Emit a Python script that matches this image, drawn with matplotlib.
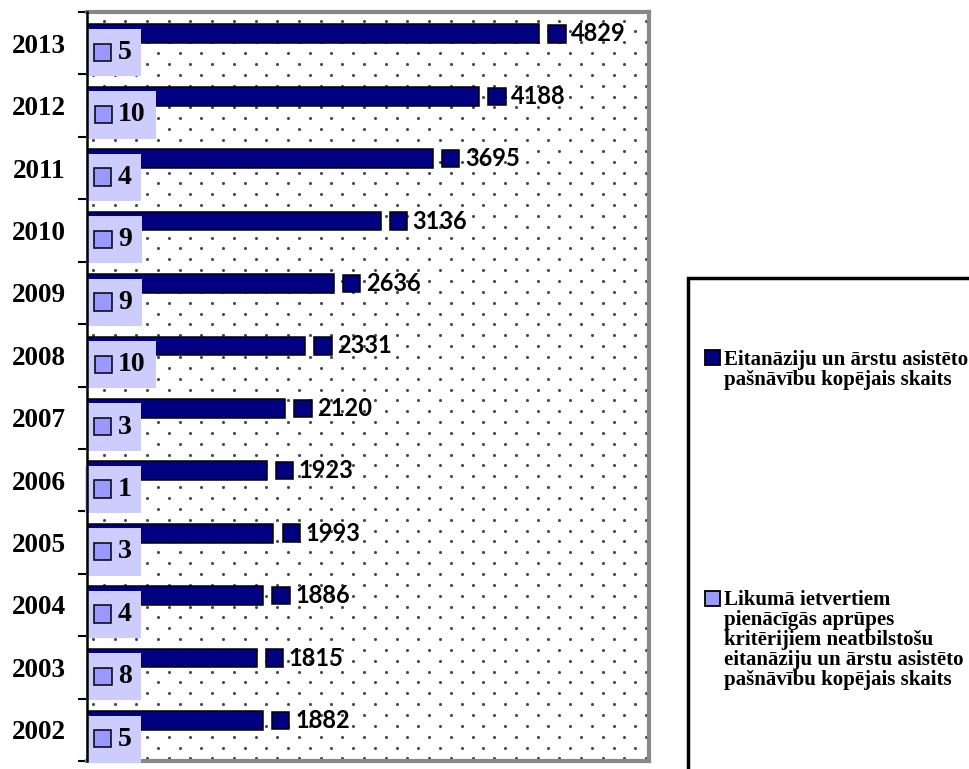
import numpy as np
import matplotlib
matplotlib.use('Agg')
import matplotlib.pyplot as plt
from matplotlib.patches import Rectangle
from matplotlib.offsetbox import AnnotationBbox, DrawingArea, TextArea, HPacker

years = [2002, 2003, 2004, 2005, 2006, 2007, 2008, 2009, 2010, 2011, 2012, 2013]
kopejais = [1882, 1815, 1886, 1993, 1923, 2120, 2331, 2636, 3136, 3695, 4188, 4829]
neatbilstosi = [5, 8, 4, 3, 1, 3, 10, 9, 9, 4, 10, 5]
nosaukumi = ["Eitanāziju un ārstu asistēto\npašnāvību kopējais skaits",
             "Likumā ietvertiem\npienācīgās aprūpes\nkritērijiem neatbilstošu\n"
             "eitanāziju un ārstu asistēto\npašnāvību kopējais skaits"]

TUMSA = '#000080'; GAISA = '#9999FF'; FONS_ETIK = '#CCCCFF'
W, H = 969, 769
SERIF = 'Liberation Serif'; SANS = 'Lato'

def fig_xy(x, y):
    return x / W, 1 - y / H

fig = plt.figure(figsize=(W / 100, H / 100), dpi=100)
ax_l, ax_t, ax_r, ax_b = 86.7, 12, 649, 761
ax = fig.add_axes([ax_l / W, 1 - ax_b / H, (ax_r - ax_l) / W, (ax_b - ax_t) / H])

# punktotais fons
aw, ah = ax_r - ax_l, ax_b - ax_t
dx, dy = 21.7, 10.85
px, py = [], []
for k, yy in enumerate(np.arange(8.6 - 4 * dy, ah + dy, dy)):
    ph = 16.95 if k % 2 == 0 else 6.1
    for xx in np.arange(ph - dx, aw + dx, dx):
        px.append(xx / aw); py.append(1 - yy / ah)
ax.scatter(px, py, s=5, color='#4a4a4a', lw=0, transform=ax.transAxes, zorder=0.5)

y = np.arange(len(years))
h = 0.3
ax.barh(y + h / 2, kopejais, height=h, color=TUMSA, edgecolor='black', lw=1.1, zorder=2)
ax.barh(y - h / 2, neatbilstosi, height=h, color=GAISA, edgecolor='black', lw=1.1, zorder=2)

for yi, v in zip(y, kopejais):
    key = DrawingArea(13.5, 13.5)
    key.add_artist(Rectangle((0.5, 0.5), 12.5, 12.5, fc=TUMSA, ec='black', lw=1.1))
    txt = TextArea(str(v), textprops=dict(family=SANS, weight='bold', size=17))
    box = HPacker(children=[key, txt], align='center', pad=0, sep=3.5)
    ab = AnnotationBbox(box, (v, yi + h / 2), xybox=(6, 0), xycoords='data',
                        boxcoords='offset points', box_alignment=(0, 0.5),
                        frameon=False, zorder=4)
    ax.add_artist(ab)

for yi, v in zip(y, neatbilstosi):
    key = DrawingArea(16, 27)
    key.add_artist(Rectangle((2.5, 7.5), 12.5, 12.5, fc=GAISA, ec='black', lw=1.1))
    txt = TextArea(str(v), textprops=dict(family=SERIF, weight='bold', size=20))
    tukss = DrawingArea(0, 1)
    box = HPacker(children=[key, txt, tukss], align='center', pad=0, sep=3.5)
    ab = AnnotationBbox(box, (v, yi - h / 2), xybox=(2.5, 0), xycoords='data',
                        boxcoords='offset points', box_alignment=(0, 0.5),
                        frameon=True, pad=0.35, fontsize=10,
                        bboxprops=dict(fc=FONS_ETIK, ec='none'), zorder=5)
    ax.add_artist(ab)

ax.set_xlim(0, 6000)
ax.set_ylim(-0.5, len(years) - 0.5)
ax.set_xticks([])
ax.set_yticks(y)
ax.set_yticklabels([str(g) for g in years], family=SERIF, weight='bold', fontsize=19.5)
ax.set_yticks(np.arange(-0.5, len(years)), minor=True)
ax.tick_params(axis='y', which='major', length=0, pad=15)
ax.tick_params(axis='y', which='minor', length=6.5, width=1.5, direction='out', color='black')
for s in ['top', 'right', 'bottom']:
    ax.spines[s].set_color('#888888')
    ax.spines[s].set_linewidth(3)
ax.spines['left'].set_color('black')
ax.spines['left'].set_linewidth(1.8)
ax.spines['left'].set_zorder(6)

# leģenda
x0, y0 = fig_xy(688, 278)
fig.add_artist(Rectangle((x0, 1 - 820 / H), (1020 - 688) / W, (820 - 278) / H,
                         transform=fig.transFigure, fc='white', ec='black', lw=2.5, clip_on=False))
for (ky, ty), lab, col in zip([(350, 349.5), (591, 590)], nosaukumi, [TUMSA, GAISA]):
    kx, kyy = fig_xy(705, ky + 15)
    fig.add_artist(Rectangle((kx, kyy), 15 / W, 15 / H, transform=fig.transFigure,
                             fc=col, ec='black', lw=1.3))
    tx, tyy = fig_xy(724, ty)
    fig.text(tx, tyy, lab, va='top', ha='left', family=SERIF, weight='bold',
             fontsize=15, linespacing=1.0)

fig.savefig('out.png', dpi=100)
